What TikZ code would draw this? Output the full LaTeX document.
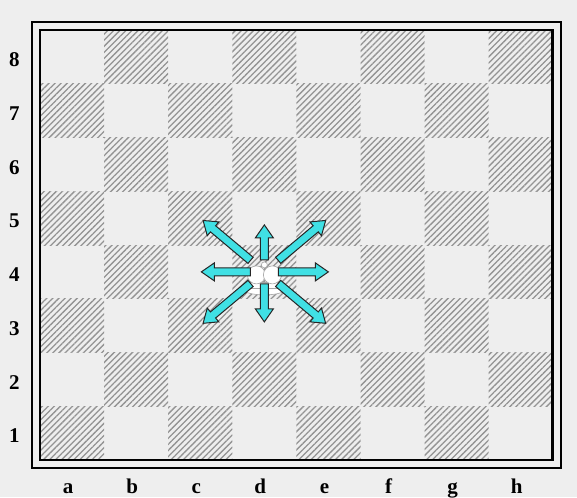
\documentclass[tikz,border=0pt]{standalone}
\usepackage{fontspec}
\setmainfont{Liberation Serif}
\usetikzlibrary{patterns.meta}
\definecolor{paper}{RGB}{238,238,238}
\definecolor{arrowcyan}{RGB}{64,224,228}
\tikzset{
  darksq/.style={pattern={Lines[angle=45,distance=4.3pt,line width=1.3pt]},pattern color=gray!85},
  movearrow/.style={fill=arrowcyan,draw=black!85,line width=1pt,line join=miter},
  kingpiece/.style={fill=white,draw=gray!70,line width=0.6pt},
  coordlabel/.style={font=\bfseries\fontsize{21}{21}\selectfont,inner sep=0pt},
}
% block arrow: angle, start radius, tip radius (pt)
\newcommand\kingarrow[3]{%
  \begin{scope}[rotate=#1]
    \filldraw[movearrow] (#2,-4) -- (#3-13,-4) -- (#3-13,-9) -- (#3,0)
      -- (#3-13,9) -- (#3-13,4) -- (#2,4) -- cycle;
  \end{scope}}

\begin{document}
\begin{tikzpicture}[x=64.1pt,y=53.75pt]
\useasboundingbox[fill=paper] (-0.624,-0.688) rectangle (8.377,8.558);
% dark squares
\foreach \i in {0,...,7}
  \foreach \j in {0,...,7}{
    \pgfmathtruncatemacro\parity{mod(\i+\j,2)}
    \ifnum\parity=0 \fill[darksq] (\i,\j) rectangle ++(1,1); \fi
  }
% frame
\draw[line width=2.8pt] (0,0) rectangle (8,8);
\draw[line width=2.6pt] (-0.125,-0.149) rectangle (8.128,8.149);
% coordinates
\foreach \f [count=\i] in {a,b,c,d,e,f,g,h}
  \node[coordlabel,anchor=base] (file\f) at (\i-0.563,-0.614) {\f};
\foreach \r in {1,...,8}
  \node[coordlabel,anchor=base] (rank\r) at (-0.4,\r-0.68) {\r};
% king on d4 and its moves
\begin{scope}[shift={(3.5,3.5)},x=1pt,y=1pt]
  \filldraw[kingpiece] (0,-18) ellipse (20 and 5);
  \filldraw[kingpiece] (-14,-16) rectangle (14,-10);
  \filldraw[kingpiece] (-8,-3) circle (9);
  \filldraw[kingpiece] (8,-3) circle (9);
  \filldraw[kingpiece] (0,7) circle (3);
  \kingarrow{90}{12}{47}
  \kingarrow{270}{12}{50}
  \kingarrow{180}{14}{63}
  \kingarrow{0}{14}{64}
  \kingarrow{140}{18}{80}
  \kingarrow{40}{18}{80}
  \kingarrow{220}{18}{80}
  \kingarrow{320}{18}{80}
\end{scope}
\end{tikzpicture}
\end{document}
